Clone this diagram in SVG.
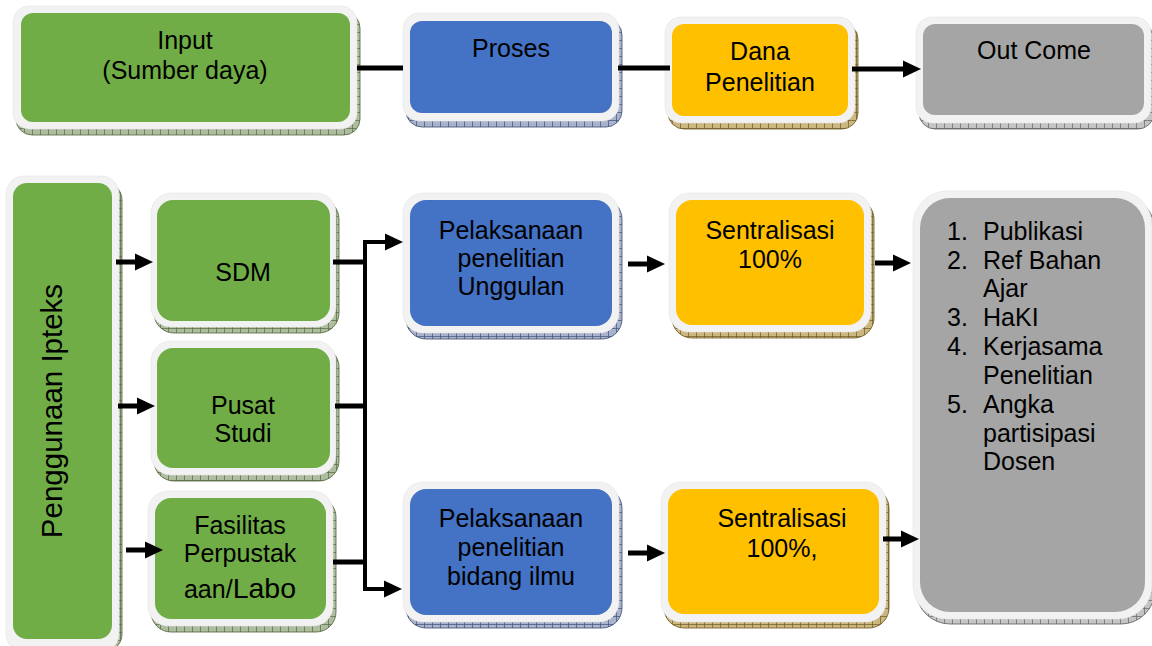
<svg xmlns="http://www.w3.org/2000/svg" width="1152" height="646" viewBox="0 0 1152 646">
<defs>
<pattern id="pg" width="8" height="8" patternUnits="userSpaceOnUse"><rect width="8" height="8" fill="#aebd9f"/><path d="M0 0.5H8M0.5 0V8" stroke="#55683f" stroke-width="0.7"/></pattern>
<pattern id="pb" width="8" height="8" patternUnits="userSpaceOnUse"><rect width="8" height="8" fill="#a9b4cc"/><path d="M0 0.5H8M0.5 0V8" stroke="#3d4f7a" stroke-width="0.7"/></pattern>
<pattern id="py" width="8" height="8" patternUnits="userSpaceOnUse"><rect width="8" height="8" fill="#cdb780"/><path d="M0 0.5H8M0.5 0V8" stroke="#6e5a22" stroke-width="0.7"/></pattern>
<pattern id="pk" width="8" height="8" patternUnits="userSpaceOnUse"><rect width="8" height="8" fill="#c4c4c4"/><path d="M0 0.5H8M0.5 0V8" stroke="#666" stroke-width="0.7"/></pattern>
<marker id="ah" markerUnits="userSpaceOnUse" markerWidth="18" markerHeight="17" refX="0" refY="8.5" orient="auto" overflow="visible"><path d="M0 0L18 8.5L0 17Z" fill="#000"/></marker>
</defs>
<style>
.fr{fill:#f2f2f2;stroke:#e4e4e4;stroke-width:0.6}
.g{fill:#70ad47}.b{fill:#4472c4}.y{fill:#ffc000}.k{fill:#a5a5a5}
.sg{fill:url(#pg);stroke:#4f6339;stroke-width:0.8}
.sb{fill:url(#pb);stroke:#3a4a70;stroke-width:0.8}
.sy{fill:url(#py);stroke:#6a561f;stroke-width:0.8}
.sk{fill:url(#pk);stroke:#5e5e5e;stroke-width:0.8}
text{font-family:"Liberation Sans",Arial,sans-serif;font-size:25px;fill:#000}
.c{text-anchor:middle}
.ln{stroke:#000;stroke-width:5;fill:none}
.bus{stroke:#000;stroke-width:4;fill:none}
.ar{stroke:#000;stroke-width:5;fill:none;marker-end:url(#ah)}
.arb{stroke:#000;stroke-width:4;fill:none;marker-end:url(#ah)}
</style>
<rect width="1152" height="646" fill="#fff"/>

<g id="node-input">
<rect class="sg" x="16" y="12" width="344" height="123" rx="16"/>
<rect class="fr" x="13" y="6" width="344" height="123" rx="16"/>
<rect class="g" x="21" y="13" width="329" height="109" rx="12"/>
<text class="c" x="185" y="49">Input</text>
<text class="c" x="185" y="79">(Sumber daya)</text>
</g>

<g id="node-proses">
<rect class="sb" x="406" y="19" width="216" height="108" rx="16"/>
<rect class="fr" x="403" y="13" width="216" height="108" rx="16"/>
<rect class="b" x="410" y="21" width="202" height="92" rx="12"/>
<text class="c" x="511" y="57">Proses</text>
</g>

<g id="node-dana">
<rect class="sy" x="668" y="23" width="190" height="106" rx="16"/>
<rect class="fr" x="665" y="17" width="190" height="106" rx="16"/>
<rect class="y" x="672" y="24" width="176" height="92" rx="12"/>
<text class="c" x="760" y="60">Dana</text>
<text class="c" x="760" y="91">Penelitian</text>
</g>

<g id="node-outcome">
<rect class="sk" x="919" y="23" width="235" height="106" rx="16"/>
<rect class="fr" x="916" y="17" width="235" height="106" rx="16"/>
<rect class="k" x="923" y="24" width="221" height="91" rx="12"/>
<text class="c" x="1034" y="59">Out Come</text>
</g>

<g id="node-penggunaan">
<rect class="sg" x="9" y="182" width="113" height="470" rx="18"/>
<rect class="fr" x="6" y="176" width="113" height="476" rx="18"/>
<rect class="g" x="13" y="183" width="99" height="456" rx="14"/>
<text class="c" transform="translate(62 411) rotate(-90)" x="0" y="0" style="font-size:29.5px">Penggunaan Ipteks</text>
</g>

<g id="node-sdm">
<rect class="sg" x="154" y="199" width="185" height="134" rx="20"/>
<rect class="fr" x="151" y="193" width="185" height="134" rx="20"/>
<rect class="g" x="157" y="200" width="173" height="121" rx="16"/>
<text class="c" x="243" y="281">SDM</text>
</g>

<g id="node-pusat">
<rect class="sg" x="154" y="347" width="185" height="134" rx="20"/>
<rect class="fr" x="151" y="341" width="185" height="134" rx="20"/>
<rect class="g" x="157" y="348" width="173" height="120" rx="16"/>
<text class="c" x="243" y="414">Pusat</text>
<text class="c" x="243" y="442">Studi</text>
</g>

<g id="node-fasilitas">
<rect class="sg" x="151" y="497" width="185" height="135" rx="20"/>
<rect class="fr" x="148" y="491" width="185" height="135" rx="20"/>
<rect class="g" x="155" y="498" width="171" height="121" rx="16"/>
<text class="c" x="240" y="534">Fasilitas</text>
<text class="c" x="240" y="562">Perpustak</text>
<text class="c" x="240" y="598">aan/<tspan style="font-size:28.5px">Labo</tspan></text>
</g>

<g id="node-unggulan">
<rect class="sb" x="406" y="199" width="216" height="140" rx="20"/>
<rect class="fr" x="403" y="193" width="216" height="140" rx="20"/>
<rect class="b" x="410" y="200" width="202" height="126" rx="16"/>
<text class="c" x="511" y="239">Pelaksanaan</text>
<text class="c" x="511" y="267">penelitian</text>
<text class="c" x="511" y="295">Unggulan</text>
</g>

<g id="node-sentral1">
<rect class="sy" x="672" y="199" width="202" height="139" rx="20"/>
<rect class="fr" x="669" y="193" width="202" height="139" rx="20"/>
<rect class="y" x="676" y="200" width="188" height="125" rx="16"/>
<text class="c" x="770" y="239">Sentralisasi</text>
<text class="c" x="770" y="268">100%</text>
</g>

<g id="node-bidang">
<rect class="sb" x="406" y="488" width="216" height="140" rx="20"/>
<rect class="fr" x="403" y="482" width="216" height="140" rx="20"/>
<rect class="b" x="410" y="489" width="202" height="126" rx="16"/>
<text class="c" x="511" y="527">Pelaksanaan</text>
<text class="c" x="511" y="556">penelitian</text>
<text class="c" x="511" y="585">bidang ilmu</text>
</g>

<g id="node-sentral2">
<rect class="sy" x="664" y="488" width="225" height="140" rx="20"/>
<rect class="fr" x="661" y="482" width="225" height="140" rx="20"/>
<rect class="y" x="668" y="489" width="211" height="125" rx="16"/>
<text class="c" x="782" y="527">Sentralisasi</text>
<text class="c" x="782" y="557">100%,</text>
</g>

<g id="node-hasil">
<rect class="sk" x="916" y="196" width="239" height="428" rx="34"/>
<rect class="fr" x="913" y="191" width="239" height="428" rx="34"/>
<rect class="k" x="920" y="198" width="225" height="414" rx="30"/>
<text x="947" y="240">1.</text><text x="983" y="240">Publikasi</text>
<text x="947" y="269">2.</text><text x="983" y="269">Ref Bahan</text>
<text x="983" y="297">Ajar</text>
<text x="947" y="326">3.</text><text x="983" y="326">HaKI</text>
<text x="947" y="355">4.</text><text x="983" y="355">Kerjasama</text>
<text x="983" y="384">Penelitian</text>
<text x="947" y="413">5.</text><text x="983" y="413">Angka</text>
<text x="983" y="442">partisipasi</text>
<text x="983" y="470">Dosen</text>
</g>

<g id="connectors">
<path class="ln" d="M357 68H403"/>
<path class="ln" d="M618 68H670"/>
<path class="ar" d="M852 69H903"/>
<path class="ar" d="M116 262H135"/>
<path class="ar" d="M118 406H137"/>
<path class="ar" d="M126 550H145"/>
<path class="ln" d="M333 262H367"/>
<path class="ln" d="M335 406H367"/>
<path class="ln" d="M333 562H367"/>
<path class="bus" d="M365 240V591"/>
<path class="arb" d="M363 242H385"/>
<path class="arb" d="M363 589H384"/>
<path class="ar" d="M628 264H647"/>
<path class="ar" d="M875 263H893"/>
<path class="ar" d="M628 553H647"/>
<path class="ar" d="M883 539H901"/>
</g>
</svg>
